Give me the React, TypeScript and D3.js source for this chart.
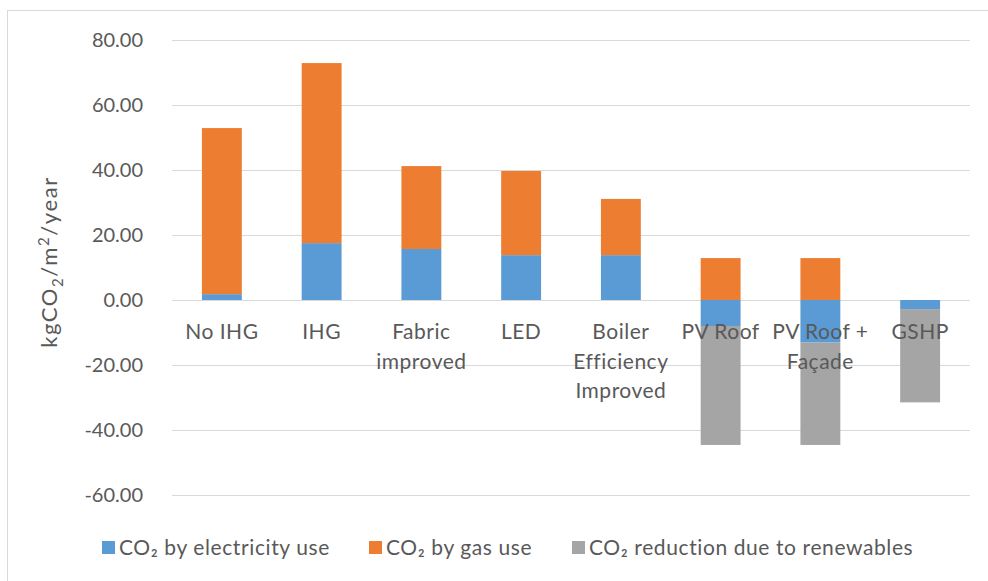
import { useEffect, useRef } from 'react';
import * as d3 from 'd3';

const categories = [
  'No IHG',
  'IHG',
  'Fabric improved',
  'LED',
  'Boiler Efficiency Improved',
  'PV Roof',
  'PV Roof + Façade',
  'GSHP',
];
// wrapped labels as Excel shows them
const categoryLines = [
  ['No IHG'],
  ['IHG'],
  ['Fabric', 'improved'],
  ['LED'],
  ['Boiler', 'Efficiency', 'Improved'],
  ['PV Roof'],
  ['PV Roof +', 'Façade'],
  ['GSHP'],
];

const seriesKeys = ['electricity', 'gas', 'renewables'];
const seriesNames = ['CO₂ by electricity use', 'CO₂ by gas use', 'CO₂ reduction due to renewables'];
const seriesColors = ['#5B9BD5', '#ED7D31', '#A5A5A5'];

const electricity = [1.8, 17.5, 15.7, 13.8, 13.8, -8.0, -13.1, -2.8];
const gas = [51.1, 55.4, 25.5, 25.9, 17.3, 12.9, 12.9, 0];
const renewables = [0, 0, 0, 0, 0, -36.6, -31.5, -28.7];

const yTicks = [-60, -40, -20, 0, 20, 40, 60, 80];

const W = 988;
const H = 581;
const FONT = 'Lato, "Open Sans", sans-serif';
const TEXT = '#595959';
const GRID = '#D9D9D9';

export default function App() {
  const svgRef = useRef<SVGSVGElement>(null);

  useEffect(() => {
    if (!svgRef.current) return;
    const svg = d3.select(svgRef.current);
    svg.selectAll('*').remove();

    const plot = { left: 172, right: 970, top: 40, bottom: 495 };

    const data = categories.map((c, i) => ({
      category: c,
      electricity: electricity[i],
      gas: gas[i],
      renewables: renewables[i],
    }));

    const x = d3.scaleBand()
      .domain(categories)
      .range([plot.left, plot.right])
      .paddingInner(0.6)
      .paddingOuter(0.3);

    const y = d3.scaleLinear().domain([-60, 80]).range([plot.bottom, plot.top]);

    // chart border
    svg.append('rect')
      .attr('x', 7.5).attr('y', 10.5)
      .attr('width', W + 20).attr('height', H + 20)
      .attr('fill', 'none')
      .attr('stroke', GRID);

    // gridlines
    svg.append('g')
      .selectAll('line')
      .data(yTicks)
      .enter()
      .append('line')
      .attr('x1', plot.left).attr('x2', plot.right)
      .attr('y1', d => Math.round(y(d)) + 0.5)
      .attr('y2', d => Math.round(y(d)) + 0.5)
      .attr('stroke', GRID)
      .attr('stroke-width', 1);

    // y tick labels
    svg.append('g')
      .selectAll('text')
      .data(yTicks)
      .enter()
      .append('text')
      .attr('x', 143)
      .attr('y', d => y(d))
      .attr('dy', '0.35em')
      .attr('text-anchor', 'end')
      .style('font-family', FONT)
      .style('font-size', '20px')
      .style('fill', TEXT)
      .text(d => d.toFixed(2));

    // bars
    const stacked = d3.stack<any>()
      .keys(seriesKeys)
      .offset(d3.stackOffsetDiverging)(data);

    stacked.forEach((s, si) => {
      svg.append('g')
        .selectAll('rect')
        .data(s)
        .enter()
        .append('rect')
        .attr('x', d => x(d.data.category)!)
        .attr('width', x.bandwidth())
        .attr('y', d => y(Math.max(d[0], d[1])))
        .attr('height', d => Math.abs(y(d[0]) - y(d[1])))
        .attr('fill', seriesColors[si]);
    });

    // category labels
    const labels = svg.append('g');
    categories.forEach((c, i) => {
      const t = labels.append('text')
        .attr('x', x(c)! + x.bandwidth() / 2)
        .attr('y', y(0) + 39)
        .attr('text-anchor', 'middle')
        .style('font-family', FONT)
        .style('font-size', '21px')
        .style('letter-spacing', '0.5px')
        .style('fill', TEXT);
      categoryLines[i].forEach((line, li) => {
        t.append('tspan')
          .attr('x', x(c)! + x.bandwidth() / 2)
          .attr('dy', li === 0 ? 0 : 29.5)
          .text(line);
      });
    });

    // y axis title
    const title = svg.append('text')
      .attr('transform', `translate(57,262) rotate(-90)`)
      .attr('text-anchor', 'middle')
      .style('font-family', FONT)
      .style('font-size', '22px')
      .style('letter-spacing', '1.6px')
      .style('fill', TEXT);
    title.append('tspan').text('kgCO');
    title.append('tspan').attr('dy', 6).style('font-size', '15px').text('2');
    title.append('tspan').attr('dy', -6).text('/m');
    title.append('tspan').attr('dy', -8).style('font-size', '15px').text('2');
    title.append('tspan').attr('dy', 8).text('/year');

    // legend
    const legendX = [102, 369, 572];
    const legend = svg.append('g');
    seriesNames.forEach((name, i) => {
      legend.append('rect')
        .attr('x', legendX[i]).attr('y', 541)
        .attr('width', 13).attr('height', 13)
        .attr('fill', seriesColors[i]);
      legend.append('text')
        .attr('x', legendX[i] + 17)
        .attr('y', 548)
        .attr('dy', '0.35em')
        .style('font-family', FONT)
        .style('font-size', '21px')
        .style('letter-spacing', '0.6px')
        .style('fill', TEXT)
        .text(name);
    });
  }, []);

  return (
    <div style={{ position: 'absolute', left: 0, top: 0, width: W, height: H, background: '#fff', overflow: 'hidden' }}>
      <svg ref={svgRef} width={W} height={H} />
    </div>
  );
}
